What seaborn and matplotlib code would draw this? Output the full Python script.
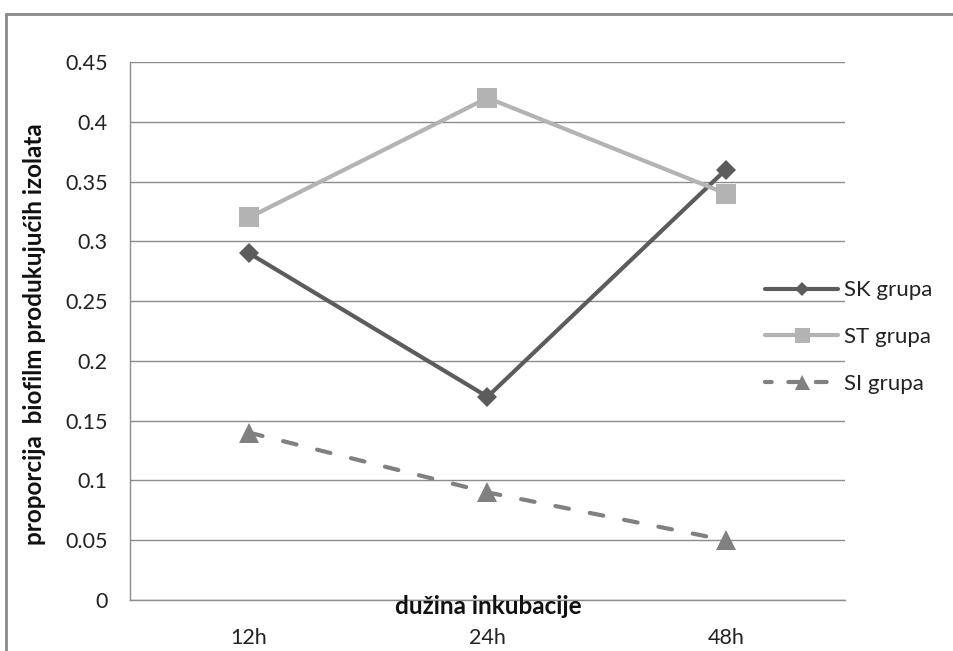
import matplotlib
matplotlib.use("Agg")
import matplotlib.pyplot as plt
from matplotlib.lines import Line2D
import seaborn as sns
import pandas as pd

# Incubation times and proportions of biofilm-producing isolates per group
times = ["12h", "24h", "48h"]
sk_grupa = [0.29, 0.17, 0.36]
st_grupa = [0.32, 0.42, 0.34]
si_grupa = [0.14, 0.09, 0.05]
groups = ["SK grupa", "ST grupa", "SI grupa"]
y_ticks = [0, 0.05, 0.1, 0.15, 0.2, 0.25, 0.3, 0.35, 0.4, 0.45]

df = pd.DataFrame({
    "vrijeme": times * 3,
    "proporcija": sk_grupa + st_grupa + si_grupa,
    "grupa": [groups[0]] * 3 + [groups[1]] * 3 + [groups[2]] * 3,
})
df["pos"] = df["vrijeme"].map({t: i for i, t in enumerate(times)})

sns.set_style("white")
plt.rcParams["font.family"] = ["Lato", "DejaVu Sans"]

palette = {"SK grupa": "#5c5c5c", "ST grupa": "#b3b3b3", "SI grupa": "#808080"}
markers = {"SK grupa": "D", "ST grupa": "s", "SI grupa": "^"}
dash_pat = (3.3, 5.1)
dashes = {"SK grupa": "", "ST grupa": "", "SI grupa": dash_pat}
msizes = {"SK grupa": 10.5, "ST grupa": 15, "SI grupa": 15}

fig = plt.figure(figsize=(9.54, 6.51), dpi=100)
ax = fig.add_axes([130 / 954, 1 - 600 / 651, (845 - 130) / 954, (600 - 62) / 651])

sns.lineplot(data=df, x="pos", y="proporcija", hue="grupa", style="grupa",
             palette=palette, markers=markers, dashes=dashes,
             linewidth=3, markeredgewidth=0, legend=False, ax=ax)
for line, g in zip(ax.get_lines(), groups):
    line.set_markersize(msizes[g])
    line.set_dash_capstyle("round")
    line.set_solid_capstyle("round")

ax.set_xlim(-0.5, 2.5)
ax.set_ylim(0, 0.45)
ax.set_yticks(y_ticks)
ax.set_yticklabels([f"{v:g}" for v in y_ticks])
ax.set_xticks(range(len(times)))
ax.set_xticklabels(times)
ax.set_xticks([-0.5, 0.5, 1.5, 2.5], minor=True)
ax.tick_params(axis="x", which="major", length=0, pad=20, labelsize=15.5, labelcolor="#222222")
ax.tick_params(axis="x", which="minor", length=6, color="#8c8c8c", direction="out")
ax.tick_params(axis="y", length=8, color="#8c8c8c", direction="out", pad=8,
               labelsize=15.5, labelcolor="#222222")
ax.yaxis.grid(True, color="#8c8c8c", linewidth=1)
ax.set_axisbelow(True)
for side in ["top", "right"]:
    ax.spines[side].set_visible(False)
for side in ["left", "bottom"]:
    ax.spines[side].set_color("#8c8c8c")
    ax.spines[side].set_linewidth(1)

ax.set_xlabel("")
ax.set_ylabel("proporcija  biofilm produkujućih izolata", fontsize=17.5,
              fontweight="bold", color="#111111")
ax.yaxis.set_label_coords(-0.117, 0.494)
fig.text(488 / 954, 1 - 607 / 651, "dužina inkubacije", ha="center", va="center",
         fontsize=17.5, fontweight="bold", color="#111111")

handles = [Line2D([0], [0], color=palette[g], marker=markers[g], lw=3,
                  markersize=msizes[g] * 0.72, markeredgewidth=0,
                  dash_capstyle="round", solid_capstyle="round",
                  linestyle="-" if g != "SI grupa" else (1.0, (2.6, 4.0)))
           for g in groups]
fig.legend(handles, groups, loc="center left", bbox_to_anchor=(765 / 954, 1 - 337 / 651),
           frameon=False, fontsize=16, handlelength=3.3, handletextpad=0.25,
           labelspacing=1.2, borderaxespad=0, borderpad=0, labelcolor="#222222")

# outer chart frame
fig.add_artist(Line2D([6 / 954, 6 / 954], [0, 1 - 14 / 651], color="#8a8a8a", lw=2,
                      transform=fig.transFigure))
fig.add_artist(Line2D([6 / 954, 1], [1 - 14 / 651, 1 - 14 / 651], color="#8a8a8a", lw=2,
                      transform=fig.transFigure))

fig.savefig("out.png", dpi=100)
